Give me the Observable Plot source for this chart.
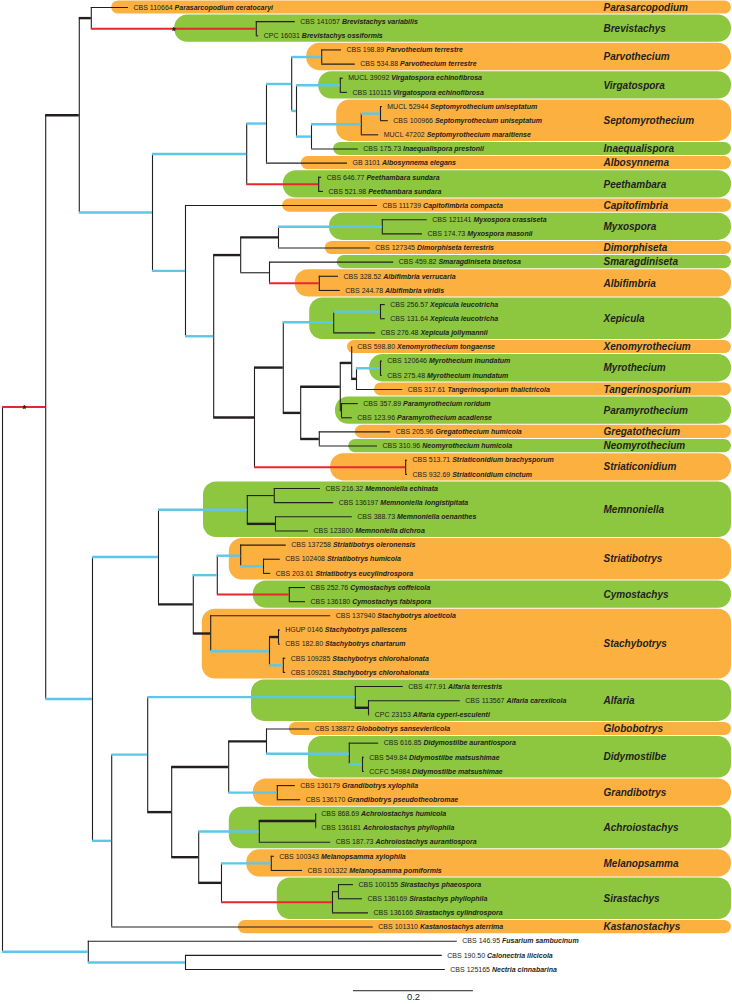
<!DOCTYPE html>
<html>
<head>
<meta charset="utf-8">
<script src="https://cdn.jsdelivr.net/npm/d3@7"></script>
<script src="https://cdn.jsdelivr.net/npm/@observablehq/plot@0.6"></script>
<style>
  html, body { margin: 0; padding: 0; background: #fff; }
  #chart svg { display: block; }
</style>
</head>
<body>
<div id="chart"></div>
<script>
// ---------- DATA ----------
// Internal nodes: [id, parent, depth from root (substitutions/site), branch support class]
const internalNodes = [
  ["root", null, 0.000, "none"],
  ["A", "root", 0.072, "novel"],
  ["B", "root", 0.143, "full"],
  ["C", "B", 0.305, "full"],
  ["D", "A", 0.128, "strong"],
  ["F", "D", 0.148, "strong"],
  ["H", "F", 0.423, "novel"],
  ["G", "D", 0.250, "full"],
  ["I", "G", 0.407, "full"],
  ["K", "I", 0.440, "full"],
  ["L", "K", 0.482, "full"],
  ["M", "L", 0.532, "full"],
  ["N", "L", 0.490, "full"],
  ["V", "N", 0.563, "full"],
  ["O", "N", 0.515, "full"],
  ["P", "O", 0.598, "full"],
  ["Q", "P", 0.630, "full"],
  ["Pe", "I", 0.527, "novel"],
  ["J", "G", 0.305, "full"],
  ["R", "J", 0.352, "full"],
  ["S", "R", 0.397, "strong"],
  ["U", "S", 0.460, "strong"],
  ["My", "U", 0.633, "full"],
  ["W", "S", 0.445, "weak"],
  ["Al", "W", 0.528, "novel"],
  ["T", "R", 0.420, "strong"],
  ["X", "T", 0.468, "strong"],
  ["Xe", "X", 0.552, "full"],
  ["Xe2", "Xe", 0.630, "full"],
  ["Y", "X", 0.497, "strong"],
  ["Z", "Y", 0.563, "strong"],
  ["AB", "Z", 0.582, "strong"],
  ["AC", "AB", 0.590, "strong"],
  ["Myr", "AC", 0.630, "full"],
  ["Pa", "Z", 0.565, "weak"],
  ["AA", "Y", 0.528, "strong"],
  ["Sc", "T", 0.672, "novel"],
  ["E", "A", 0.150, "full"],
  ["AD", "E", 0.260, "full"],
  ["Me", "AD", 0.408, "full"],
  ["Me1", "Me", 0.453, "weak"],
  ["Me2", "Me", 0.455, "strong"],
  ["AF", "AD", 0.318, "strong"],
  ["AG", "AF", 0.358, "full"],
  ["Sb", "AG", 0.397, "full"],
  ["Sb2", "Sb", 0.435, "full"],
  ["Cy", "AG", 0.478, "novel"],
  ["AH", "AF", 0.347, "strong"],
  ["AI", "AH", 0.445, "full"],
  ["AI1", "AI", 0.460, "strong"],
  ["AI2", "AI", 0.468, "full"],
  ["AE", "E", 0.182, "full"],
  ["AK", "AE", 0.242, "full"],
  ["Alf", "AK", 0.588, "full"],
  ["Alf2", "Alf", 0.610, "strong"],
  ["AL", "AK", 0.282, "strong"],
  ["AM", "AL", 0.377, "strong"],
  ["AO", "AM", 0.440, "strong"],
  ["Di", "AO", 0.578, "full"],
  ["Di2", "Di", 0.600, "full"],
  ["Gr", "AM", 0.458, "full"],
  ["AN", "AL", 0.327, "strong"],
  ["Ac", "AN", 0.428, "full"],
  ["Ac2", "Ac", 0.522, "strong"],
  ["AP", "AN", 0.365, "strong"],
  ["Mel", "AP", 0.448, "full"],
  ["Si", "AP", 0.550, "novel"],
  ["Si2", "Si", 0.560, "weak"]
];

// Leaves, top to bottom
const leafStrains = [
  "CBS 110664", "CBS 141057", "CPC 16031", "CBS 198.89", "CBS 534.88",
  "MUCL 39092", "CBS 110115", "MUCL 52944", "CBS 100966", "MUCL 47202",
  "CBS 175.73", "GB 3101", "CBS 646.77", "CBS 521.98", "CBS 111739",
  "CBS 121141", "CBS 174.73", "CBS 127345", "CBS 459.82", "CBS 328.52",
  "CBS 244.78", "CBS 256.57", "CBS 131.64", "CBS 276.48", "CBS 598.80",
  "CBS 120646", "CBS 275.48", "CBS 317.61", "CBS 357.89", "CBS 123.96",
  "CBS 205.96", "CBS 310.96", "CBS 513.71", "CBS 932.69", "CBS 216.32",
  "CBS 136197", "CBS 388.73", "CBS 123800", "CBS 137258", "CBS 102408",
  "CBS 203.61", "CBS 252.76", "CBS 136180", "CBS 137940", "HGUP 0146",
  "CBS 182.80", "CBS 109285", "CBS 109281", "CBS 477.91", "CBS 113567",
  "CPC 23153", "CBS 138872", "CBS 616.85", "CBS 549.84", "CCFC 54984",
  "CBS 136179", "CBS 136170", "CBS 868.69", "CBS 136181", "CBS 187.73",
  "CBS 100343", "CBS 101322", "CBS 100155", "CBS 136169", "CBS 136166",
  "CBS 101310", "CBS 146.95", "CBS 190.50", "CBS 125165"
];
const leafSpecies = [
  "Parasarcopodium ceratocaryi", "Brevistachys variabilis", "Brevistachys ossiformis",
  "Parvothecium terrestre", "Parvothecium terrestre",
  "Virgatospora echinofibrosa", "Virgatospora echinofibrosa",
  "Septomyrothecium uniseptatum", "Septomyrothecium uniseptatum", "Septomyrothecium maraitiense",
  "Inaequalispora prestonii", "Albosynnema elegans", "Peethambara sundara", "Peethambara sundara",
  "Capitofimbria compacta", "Myxospora crassiseta", "Myxospora masonii",
  "Dimorphiseta terrestris", "Smaragdiniseta bisetosa", "Albifimbria verrucaria",
  "Albifimbria viridis", "Xepicula leucotricha", "Xepicula leucotricha", "Xepicula jollymannii",
  "Xenomyrothecium tongaense", "Myrothecium inundatum", "Myrothecium inundatum",
  "Tangerinosporium thalictricola", "Paramyrothecium roridum", "Paramyrothecium acadiense",
  "Gregatothecium humicola", "Neomyrothecium humicola", "Striaticonidium brachysporum",
  "Striaticonidium cinctum", "Memnoniella echinata", "Memnoniella longistipitata",
  "Memnoniella oenanthes", "Memnoniella dichroa", "Striatibotrys oleronensis",
  "Striatibotrys humicola", "Striatibotrys eucylindrospora", "Cymostachys coffeicola",
  "Cymostachys fabispora", "Stachybotrys aloeticola", "Stachybotrys pallescens",
  "Stachybotrys chartarum", "Stachybotrys chlorohalonata", "Stachybotrys chlorohalonata",
  "Alfaria terrestris", "Alfaria carexiicola", "Alfaria cyperi-esculenti",
  "Globobotrys sansevieriicola", "Didymostilbe aurantiospora", "Didymostilbe matsushimae",
  "Didymostilbe matsushimae", "Grandibotrys xylophila", "Grandibotrys pseudotheobromae",
  "Achroiostachys humicola", "Achroiostachys phyllophila", "Achroiostachys aurantiospora",
  "Melanopsamma xylophila", "Melanopsamma pomiformis", "Sirastachys phaeospora",
  "Sirastachys phyllophila", "Sirastachys cylindrospora", "Kastanostachys aterrima",
  "Fusarium sambucinum", "Calonectria ilicicola", "Nectria cinnabarina"
];
const leafParents = [
  "F", "H", "H", "M", "M", "V", "V", "Q", "Q", "P",
  "O", "K", "Pe", "Pe", "J", "My", "My", "U", "W", "Al",
  "Al", "Xe2", "Xe2", "Xe", "AB", "Myr", "Myr", "AC", "Pa", "Pa",
  "AA", "AA", "Sc", "Sc", "Me1", "Me1", "Me2", "Me2", "Sb", "Sb2",
  "Sb2", "Cy", "Cy", "AH", "AI1", "AI1", "AI2", "AI2", "Alf", "Alf2",
  "Alf2", "AO", "Di", "Di2", "Di2", "Gr", "Gr", "Ac2", "Ac2", "Ac",
  "Mel", "Mel", "Si2", "Si2", "Si", "AE", "B", "C", "C"
];
const leafDepths = [
  0.210, 0.488, 0.427, 0.565, 0.588, 0.568, 0.575, 0.633, 0.643, 0.627,
  0.593, 0.575, 0.532, 0.535, 0.625, 0.708, 0.700, 0.613, 0.652, 0.560,
  0.563, 0.638, 0.638, 0.622, 0.583, 0.633, 0.633, 0.667, 0.593, 0.583,
  0.647, 0.625, 0.675, 0.675, 0.530, 0.552, 0.583, 0.510, 0.473, 0.463,
  0.447, 0.505, 0.505, 0.547, 0.463, 0.463, 0.472, 0.472, 0.668, 0.763,
  0.612, 0.512, 0.627, 0.603, 0.603, 0.488, 0.497, 0.523, 0.523, 0.547,
  0.453, 0.500, 0.585, 0.600, 0.610, 0.618, 0.758, 0.733, 0.738
];

// Genera (shaded clades): name, first leaf, last leaf, depth where shading starts
const genera = [
  "Parasarcopodium", "Brevistachys", "Parvothecium", "Virgatospora", "Septomyrothecium",
  "Inaequalispora", "Albosynnema", "Peethambara", "Capitofimbria", "Myxospora",
  "Dimorphiseta", "Smaragdiniseta", "Albifimbria", "Xepicula", "Xenomyrothecium",
  "Myrothecium", "Tangerinosporium", "Paramyrothecium", "Gregatothecium", "Neomyrothecium",
  "Striaticonidium", "Memnoniella", "Striatibotrys", "Cymostachys", "Stachybotrys",
  "Alfaria", "Globobotrys", "Didymostilbe", "Grandibotrys", "Achroiostachys",
  "Melanopsamma", "Sirastachys", "Kastanostachys"
];
const genusFirstLeaf = [0, 1, 3, 5, 7, 10, 11, 12, 14, 15, 17, 18, 19, 21, 24, 25, 27, 28, 30, 31, 32, 34, 38, 41, 43, 48, 51, 52, 55, 57, 60, 62, 65];
const genusLastLeaf  = [0, 2, 4, 6, 9, 10, 11, 13, 14, 16, 17, 18, 20, 23, 24, 26, 27, 29, 30, 31, 33, 37, 40, 42, 47, 50, 51, 54, 56, 59, 61, 64, 65];
const genusStart = [
  0.182, 0.287, 0.507, 0.527, 0.557, 0.552, 0.498, 0.468, 0.467, 0.545,
  0.538, 0.558, 0.488, 0.512, 0.575, 0.612, 0.620, 0.555, 0.588, 0.577,
  0.547, 0.335, 0.378, 0.418, 0.333, 0.415, 0.478, 0.510, 0.418, 0.378,
  0.407, 0.458, 0.393
];

const starredBranches = ["A", "H"];
const scaleBarLength = 0.2;
const scaleBarStart = 0.585;
const scaleBarLabel = "0.2";

// ---------- STYLE ----------
const ORANGE = "#fbb040", GREEN = "#8dc63f", CYAN = "#5ec6e8", RED = "#e8262d", INK = "#231f20";
const FONT = "'Liberation Sans', Arial, Helvetica, sans-serif";
const X_MAX = 1.2167, BOX_RIGHT = 1.215;

// ---------- TREE LAYOUT ----------
const nodes = new Map();
internalNodes.forEach(([id, parent, depth, support]) =>
  nodes.set(id, {id, parent, depth, support, children: [], leaf: false}));
const leaves = leafStrains.map((s, i) => ({
  id: "leaf" + i, parent: leafParents[i], depth: leafDepths[i], support: "weak",
  strain: s, species: leafSpecies[i], label: s + " " + leafSpecies[i], y: i, leaf: true, children: []
}));
leaves.forEach(l => nodes.set(l.id, l));
for (const n of nodes.values()) if (n.parent) nodes.get(n.parent).children.push(n);
function layoutY(n) {
  if (n.leaf) return n.y;
  const ys = n.children.map(layoutY);
  n.y1 = Math.min(...ys); n.y2 = Math.max(...ys);
  n.y = (n.y1 + n.y2) / 2;
  return n.y;
}
layoutY(nodes.get("root"));

const verticals = [...nodes.values()].filter(n => !n.leaf);
const branches = [...nodes.values()].filter(n => n.parent).map(n => ({
  id: n.id, y: n.y, x1: nodes.get(n.parent).depth, x2: n.depth, support: n.support
}));
const stars = branches.filter(b => starredBranches.includes(b.id)).map(b => ({x: (b.x1 + b.x2) / 2, y: b.y}));

const boxes = genera.map((g, i) => ({
  genus: g, x1: genusStart[i], x2: BOX_RIGHT,
  y1: genusFirstLeaf[i] - 0.5, y2: genusLastLeaf[i] + 0.5,
  yc: (genusFirstLeaf[i] + genusLastLeaf[i]) / 2,
  tone: i % 2 === 0 ? "orange" : "green",
  single: genusFirstLeaf[i] === genusLastLeaf[i]
}));

const nLeaves = leaves.length;
const scaleBar = [{x1: scaleBarStart, x2: scaleBarStart + scaleBarLength, y: nLeaves + 0.5}];
const scaleText = [{x: scaleBarStart + scaleBarLength / 2, y: nLeaves + 0.95, text: scaleBarLabel}];

const boxMark = (filter, fill, rx) => Plot.rect(boxes.filter(filter), {
  x1: "x1", x2: "x2", y1: "y1", y2: "y2", fill, rx, insetTop: 0.5, insetBottom: 0.5
});
const branchMark = (support, stroke, w) => Plot.ruleY(branches.filter(b => b.support === support), {
  y: "y", x1: "x1", x2: "x2", stroke, strokeWidth: w, strokeLinecap: "butt"
});

const chart = Plot.plot({
  width: 732, height: 1004,
  marginLeft: 2, marginRight: 0, marginTop: 7, marginBottom: 35,
  x: {domain: [0, X_MAX], axis: null},
  y: {domain: [0, nLeaves - 1], reverse: true, axis: null},
  style: {fontFamily: FONT, background: "#fff"},
  marks: [
    boxMark(d => d.tone === "orange" && d.single, ORANGE, 7),
    boxMark(d => d.tone === "orange" && !d.single, ORANGE, 13),
    boxMark(d => d.tone === "green" && d.single, GREEN, 7),
    boxMark(d => d.tone === "green" && !d.single, GREEN, 13),
    Plot.ruleX(verticals, {x: "depth", y1: "y1", y2: "y2", stroke: INK, strokeWidth: 1.1}),
    branchMark("weak", INK, 1.1),
    branchMark("strong", INK, 2.4),
    branchMark("full", CYAN, 2.4),
    branchMark("novel", RED, 2),
    Plot.text(stars, {x: "x", y: "y", text: () => "*", fontSize: 10, fill: INK, dy: 3, fontWeight: "bold"}),
    Plot.text(leaves, {x: "depth", y: "y", text: "label", textAnchor: "start", dx: 5,
      fontSize: 7, fill: INK, fontFamily: FONT}),
    Plot.text(boxes, {y: "yc", text: "genus", frameAnchor: "right", textAnchor: "start", dx: -129,
      fontSize: 10, fontWeight: "bold", fontStyle: "italic", fill: INK, fontFamily: FONT}),
    Plot.ruleY(scaleBar, {y: "y", x1: "x1", x2: "x2", stroke: INK, strokeWidth: 1}),
    Plot.text(scaleText, {x: "x", y: "y", text: "text", fontSize: 9.5, fill: INK, fontFamily: FONT})
  ]
});

// Italicise species names (strain number stays roman)
const labelMap = new Map(leaves.map(l => [l.label, l]));
chart.querySelectorAll("text").forEach(t => {
  const l = labelMap.get(t.textContent);
  if (!l) return;
  while (t.firstChild) t.removeChild(t.firstChild);
  const a = document.createElementNS("http://www.w3.org/2000/svg", "tspan");
  a.textContent = l.strain + " ";
  const b = document.createElementNS("http://www.w3.org/2000/svg", "tspan");
  b.textContent = l.species;
  b.setAttribute("font-style", "italic");
  b.setAttribute("font-weight", "bold");
  t.appendChild(a); t.appendChild(b);
});

document.getElementById("chart").appendChild(chart);
</script>
</body>
</html>
